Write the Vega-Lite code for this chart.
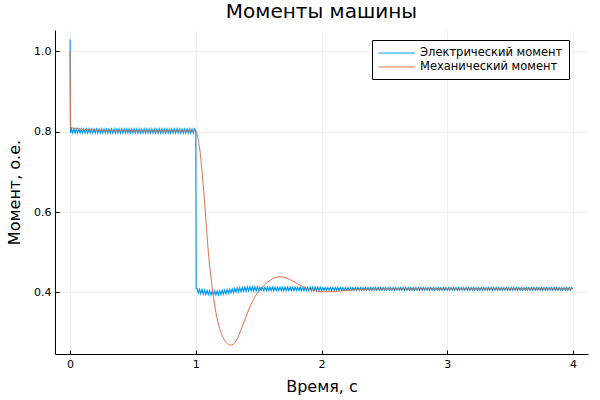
{
  "$schema": "https://vega.github.io/schema/vega-lite/v6.json",
  "width": 533,
  "height": 324,
  "autosize": "none",
  "padding": {"left": 55, "top": 30, "right": 12, "bottom": 46},
  "background": "white",
  "title": {"text": "Моменты машины", "font": "DejaVu Sans", "fontSize": 20, "fontWeight": "normal", "color": "#000", "offset": 8, "anchor": "middle"},
  "config": {
    "view": {"stroke": null},
    "font": "DejaVu Sans",
    "axis": {"domainColor": "#000", "domainWidth": 1, "tickColor": "#000", "tickSize": -4, "labelFont": "DejaVu Sans", "labelFontSize": 11, "labelColor": "#000", "titleFont": "DejaVu Sans", "titleFontSize": 16, "titleFontWeight": "normal", "titleColor": "#000", "gridColor": "#000", "gridOpacity": 0.08, "gridWidth": 0.7},
    "legend": {"labelFont": "DejaVu Sans", "labelFontSize": 11.5, "labelColor": "#000"}
  },
  "datasets": {
    "e": [
      {"t":0,"v":1.03},{"t":0.003,"v":0.797},
      {"t":0.01,"v":0.807},{"t":0.02,"v":0.797},{"t":0.03,"v":0.807},{"t":0.04,"v":0.797},{"t":0.05,"v":0.807},{"t":0.06,"v":0.797},{"t":0.07,"v":0.807},{"t":0.08,"v":0.797},{"t":0.09,"v":0.807},{"t":0.10,"v":0.797},
      {"t":0.11,"v":0.807},{"t":0.12,"v":0.797},{"t":0.13,"v":0.807},{"t":0.14,"v":0.797},{"t":0.15,"v":0.807},{"t":0.16,"v":0.797},{"t":0.17,"v":0.807},{"t":0.18,"v":0.797},{"t":0.19,"v":0.807},{"t":0.20,"v":0.797},
      {"t":0.21,"v":0.807},{"t":0.22,"v":0.797},{"t":0.23,"v":0.807},{"t":0.24,"v":0.797},{"t":0.25,"v":0.807},{"t":0.26,"v":0.797},{"t":0.27,"v":0.807},{"t":0.28,"v":0.797},{"t":0.29,"v":0.807},{"t":0.30,"v":0.797},
      {"t":0.31,"v":0.807},{"t":0.32,"v":0.797},{"t":0.33,"v":0.807},{"t":0.34,"v":0.797},{"t":0.35,"v":0.807},{"t":0.36,"v":0.797},{"t":0.37,"v":0.807},{"t":0.38,"v":0.797},{"t":0.39,"v":0.807},{"t":0.40,"v":0.797},
      {"t":0.41,"v":0.807},{"t":0.42,"v":0.797},{"t":0.43,"v":0.807},{"t":0.44,"v":0.797},{"t":0.45,"v":0.807},{"t":0.46,"v":0.797},{"t":0.47,"v":0.807},{"t":0.48,"v":0.797},{"t":0.49,"v":0.807},{"t":0.50,"v":0.797},
      {"t":0.51,"v":0.807},{"t":0.52,"v":0.797},{"t":0.53,"v":0.807},{"t":0.54,"v":0.797},{"t":0.55,"v":0.807},{"t":0.56,"v":0.797},{"t":0.57,"v":0.807},{"t":0.58,"v":0.797},{"t":0.59,"v":0.807},{"t":0.60,"v":0.797},
      {"t":0.61,"v":0.807},{"t":0.62,"v":0.797},{"t":0.63,"v":0.807},{"t":0.64,"v":0.797},{"t":0.65,"v":0.807},{"t":0.66,"v":0.797},{"t":0.67,"v":0.807},{"t":0.68,"v":0.797},{"t":0.69,"v":0.807},{"t":0.70,"v":0.797},
      {"t":0.71,"v":0.807},{"t":0.72,"v":0.797},{"t":0.73,"v":0.807},{"t":0.74,"v":0.797},{"t":0.75,"v":0.807},{"t":0.76,"v":0.797},{"t":0.77,"v":0.807},{"t":0.78,"v":0.797},{"t":0.79,"v":0.807},{"t":0.80,"v":0.797},
      {"t":0.81,"v":0.807},{"t":0.82,"v":0.797},{"t":0.83,"v":0.807},{"t":0.84,"v":0.797},{"t":0.85,"v":0.807},{"t":0.86,"v":0.797},{"t":0.87,"v":0.807},{"t":0.88,"v":0.797},{"t":0.89,"v":0.807},{"t":0.90,"v":0.797},
      {"t":0.91,"v":0.807},{"t":0.92,"v":0.797},{"t":0.93,"v":0.807},{"t":0.94,"v":0.797},{"t":0.95,"v":0.807},{"t":0.96,"v":0.797},{"t":0.97,"v":0.807},{"t":0.98,"v":0.797},{"t":0.99,"v":0.807},{"t":1.00,"v":0.802},
      {"t":1.003,"v":0.41},
      {"t":1.01,"v":0.410},{"t":1.02,"v":0.399},{"t":1.03,"v":0.408},{"t":1.04,"v":0.397},{"t":1.05,"v":0.407},{"t":1.06,"v":0.396},{"t":1.07,"v":0.406},{"t":1.08,"v":0.395},{"t":1.09,"v":0.405},{"t":1.10,"v":0.395},
      {"t":1.11,"v":0.404},{"t":1.12,"v":0.394},{"t":1.13,"v":0.404},{"t":1.14,"v":0.394},{"t":1.15,"v":0.404},{"t":1.16,"v":0.394},{"t":1.17,"v":0.404},{"t":1.18,"v":0.394},{"t":1.19,"v":0.404},{"t":1.20,"v":0.395},
      {"t":1.21,"v":0.405},{"t":1.22,"v":0.396},{"t":1.23,"v":0.406},{"t":1.24,"v":0.397},{"t":1.25,"v":0.407},{"t":1.26,"v":0.398},{"t":1.27,"v":0.408},{"t":1.28,"v":0.399},{"t":1.29,"v":0.409},{"t":1.30,"v":0.400},
      {"t":1.31,"v":0.410},{"t":1.32,"v":0.401},{"t":1.33,"v":0.411},{"t":1.34,"v":0.401},{"t":1.35,"v":0.412},{"t":1.36,"v":0.402},{"t":1.37,"v":0.412},{"t":1.38,"v":0.403},{"t":1.39,"v":0.413},{"t":1.40,"v":0.403},
      {"t":1.41,"v":0.414},{"t":1.42,"v":0.404},{"t":1.43,"v":0.414},{"t":1.44,"v":0.404},{"t":1.45,"v":0.414},{"t":1.46,"v":0.404},{"t":1.47,"v":0.414},{"t":1.48,"v":0.404},{"t":1.49,"v":0.414},{"t":1.50,"v":0.404},
      {"t":1.51,"v":0.413},{"t":1.52,"v":0.405},{"t":1.53,"v":0.413},{"t":1.54,"v":0.405},{"t":1.55,"v":0.413},{"t":1.56,"v":0.405},{"t":1.57,"v":0.413},{"t":1.58,"v":0.405},{"t":1.59,"v":0.413},{"t":1.60,"v":0.405},
      {"t":1.61,"v":0.413},{"t":1.62,"v":0.405},{"t":1.63,"v":0.413},{"t":1.64,"v":0.405},{"t":1.65,"v":0.413},{"t":1.66,"v":0.405},{"t":1.67,"v":0.413},{"t":1.68,"v":0.405},{"t":1.69,"v":0.413},{"t":1.70,"v":0.405},
      {"t":1.71,"v":0.413},{"t":1.72,"v":0.405},{"t":1.73,"v":0.413},{"t":1.74,"v":0.405},{"t":1.75,"v":0.413},{"t":1.76,"v":0.405},{"t":1.77,"v":0.413},{"t":1.78,"v":0.405},{"t":1.79,"v":0.413},{"t":1.80,"v":0.405},
      {"t":1.81,"v":0.413},{"t":1.82,"v":0.405},{"t":1.83,"v":0.413},{"t":1.84,"v":0.405},{"t":1.85,"v":0.413},{"t":1.86,"v":0.405},{"t":1.87,"v":0.413},{"t":1.88,"v":0.405},{"t":1.89,"v":0.413},{"t":1.90,"v":0.405},
      {"t":1.91,"v":0.413},{"t":1.92,"v":0.405},{"t":1.93,"v":0.413},{"t":1.94,"v":0.405},{"t":1.95,"v":0.413},{"t":1.96,"v":0.405},{"t":1.97,"v":0.413},{"t":1.98,"v":0.405},{"t":1.99,"v":0.413},{"t":2.00,"v":0.405},
      {"t":2.01,"v":0.412},{"t":2.02,"v":0.406},{"t":2.03,"v":0.412},{"t":2.04,"v":0.406},{"t":2.05,"v":0.412},{"t":2.06,"v":0.406},{"t":2.07,"v":0.412},{"t":2.08,"v":0.406},{"t":2.09,"v":0.412},{"t":2.10,"v":0.406},
      {"t":2.11,"v":0.412},{"t":2.12,"v":0.406},{"t":2.13,"v":0.412},{"t":2.14,"v":0.406},{"t":2.15,"v":0.412},{"t":2.16,"v":0.406},{"t":2.17,"v":0.412},{"t":2.18,"v":0.406},{"t":2.19,"v":0.412},{"t":2.20,"v":0.406},
      {"t":2.21,"v":0.412},{"t":2.22,"v":0.406},{"t":2.23,"v":0.412},{"t":2.24,"v":0.406},{"t":2.25,"v":0.412},{"t":2.26,"v":0.406},{"t":2.27,"v":0.412},{"t":2.28,"v":0.406},{"t":2.29,"v":0.412},{"t":2.30,"v":0.406},
      {"t":2.31,"v":0.412},{"t":2.32,"v":0.406},{"t":2.33,"v":0.412},{"t":2.34,"v":0.406},{"t":2.35,"v":0.412},{"t":2.36,"v":0.406},{"t":2.37,"v":0.412},{"t":2.38,"v":0.406},{"t":2.39,"v":0.412},{"t":2.40,"v":0.406},
      {"t":2.41,"v":0.412},{"t":2.42,"v":0.406},{"t":2.43,"v":0.412},{"t":2.44,"v":0.406},{"t":2.45,"v":0.412},{"t":2.46,"v":0.406},{"t":2.47,"v":0.412},{"t":2.48,"v":0.406},{"t":2.49,"v":0.412},{"t":2.50,"v":0.406},
      {"t":2.51,"v":0.412},{"t":2.52,"v":0.406},{"t":2.53,"v":0.412},{"t":2.54,"v":0.406},{"t":2.55,"v":0.412},{"t":2.56,"v":0.406},{"t":2.57,"v":0.412},{"t":2.58,"v":0.406},{"t":2.59,"v":0.412},{"t":2.60,"v":0.406},
      {"t":2.61,"v":0.412},{"t":2.62,"v":0.406},{"t":2.63,"v":0.412},{"t":2.64,"v":0.406},{"t":2.65,"v":0.412},{"t":2.66,"v":0.406},{"t":2.67,"v":0.412},{"t":2.68,"v":0.406},{"t":2.69,"v":0.412},{"t":2.70,"v":0.406},
      {"t":2.71,"v":0.412},{"t":2.72,"v":0.406},{"t":2.73,"v":0.412},{"t":2.74,"v":0.406},{"t":2.75,"v":0.412},{"t":2.76,"v":0.406},{"t":2.77,"v":0.412},{"t":2.78,"v":0.406},{"t":2.79,"v":0.412},{"t":2.80,"v":0.406},
      {"t":2.81,"v":0.412},{"t":2.82,"v":0.406},{"t":2.83,"v":0.412},{"t":2.84,"v":0.406},{"t":2.85,"v":0.412},{"t":2.86,"v":0.406},{"t":2.87,"v":0.412},{"t":2.88,"v":0.406},{"t":2.89,"v":0.412},{"t":2.90,"v":0.406},
      {"t":2.91,"v":0.412},{"t":2.92,"v":0.406},{"t":2.93,"v":0.412},{"t":2.94,"v":0.406},{"t":2.95,"v":0.412},{"t":2.96,"v":0.406},{"t":2.97,"v":0.412},{"t":2.98,"v":0.406},{"t":2.99,"v":0.412},{"t":3.00,"v":0.406},
      {"t":3.01,"v":0.412},{"t":3.02,"v":0.406},{"t":3.03,"v":0.412},{"t":3.04,"v":0.406},{"t":3.05,"v":0.412},{"t":3.06,"v":0.406},{"t":3.07,"v":0.412},{"t":3.08,"v":0.406},{"t":3.09,"v":0.412},{"t":3.10,"v":0.406},
      {"t":3.11,"v":0.412},{"t":3.12,"v":0.406},{"t":3.13,"v":0.412},{"t":3.14,"v":0.406},{"t":3.15,"v":0.412},{"t":3.16,"v":0.406},{"t":3.17,"v":0.412},{"t":3.18,"v":0.406},{"t":3.19,"v":0.412},{"t":3.20,"v":0.406},
      {"t":3.21,"v":0.412},{"t":3.22,"v":0.406},{"t":3.23,"v":0.412},{"t":3.24,"v":0.406},{"t":3.25,"v":0.412},{"t":3.26,"v":0.406},{"t":3.27,"v":0.412},{"t":3.28,"v":0.406},{"t":3.29,"v":0.412},{"t":3.30,"v":0.406},
      {"t":3.31,"v":0.412},{"t":3.32,"v":0.406},{"t":3.33,"v":0.412},{"t":3.34,"v":0.406},{"t":3.35,"v":0.412},{"t":3.36,"v":0.406},{"t":3.37,"v":0.412},{"t":3.38,"v":0.406},{"t":3.39,"v":0.412},{"t":3.40,"v":0.406},
      {"t":3.41,"v":0.412},{"t":3.42,"v":0.406},{"t":3.43,"v":0.412},{"t":3.44,"v":0.406},{"t":3.45,"v":0.412},{"t":3.46,"v":0.406},{"t":3.47,"v":0.412},{"t":3.48,"v":0.406},{"t":3.49,"v":0.412},{"t":3.50,"v":0.406},
      {"t":3.51,"v":0.412},{"t":3.52,"v":0.406},{"t":3.53,"v":0.412},{"t":3.54,"v":0.406},{"t":3.55,"v":0.412},{"t":3.56,"v":0.406},{"t":3.57,"v":0.412},{"t":3.58,"v":0.406},{"t":3.59,"v":0.412},{"t":3.60,"v":0.406},
      {"t":3.61,"v":0.412},{"t":3.62,"v":0.406},{"t":3.63,"v":0.412},{"t":3.64,"v":0.406},{"t":3.65,"v":0.412},{"t":3.66,"v":0.406},{"t":3.67,"v":0.412},{"t":3.68,"v":0.406},{"t":3.69,"v":0.412},{"t":3.70,"v":0.406},
      {"t":3.71,"v":0.412},{"t":3.72,"v":0.406},{"t":3.73,"v":0.412},{"t":3.74,"v":0.406},{"t":3.75,"v":0.412},{"t":3.76,"v":0.406},{"t":3.77,"v":0.412},{"t":3.78,"v":0.406},{"t":3.79,"v":0.412},{"t":3.80,"v":0.406},
      {"t":3.81,"v":0.412},{"t":3.82,"v":0.406},{"t":3.83,"v":0.412},{"t":3.84,"v":0.406},{"t":3.85,"v":0.412},{"t":3.86,"v":0.406},{"t":3.87,"v":0.412},{"t":3.88,"v":0.406},{"t":3.89,"v":0.412},{"t":3.90,"v":0.406},
      {"t":3.91,"v":0.412},{"t":3.92,"v":0.406},{"t":3.93,"v":0.412},{"t":3.94,"v":0.406},{"t":3.95,"v":0.412},{"t":3.96,"v":0.406},{"t":3.97,"v":0.412},{"t":3.98,"v":0.406},{"t":3.99,"v":0.412},{"t":4.00,"v":0.409}
    ],
    "m": [
      {"t":0,"v":1.0},{"t":0.005,"v":0.81},{"t":0.05,"v":0.808},{"t":0.1,"v":0.806},{"t":0.2,"v":0.804},{"t":0.3,"v":0.803},{"t":0.4,"v":0.802},{"t":1.0,"v":0.802},
      {"t":1.01,"v":0.795},{"t":1.02,"v":0.778},{"t":1.03,"v":0.76},{"t":1.05,"v":0.70},{"t":1.076,"v":0.60},{"t":1.10,"v":0.50},{"t":1.12,"v":0.44},{"t":1.14,"v":0.39},{"t":1.16,"v":0.35},{"t":1.19,"v":0.31},{"t":1.22,"v":0.286},{"t":1.25,"v":0.273},{"t":1.275,"v":0.269},{"t":1.30,"v":0.272},{"t":1.33,"v":0.285},{"t":1.37,"v":0.316},{"t":1.40,"v":0.34},{"t":1.434,"v":0.367},{"t":1.47,"v":0.389},{"t":1.51,"v":0.406},{"t":1.55,"v":0.42},{"t":1.59,"v":0.43},{"t":1.63,"v":0.437},{"t":1.67,"v":0.439},{"t":1.72,"v":0.436},{"t":1.78,"v":0.427},{"t":1.83,"v":0.418},{"t":1.88,"v":0.41},{"t":1.94,"v":0.405},{"t":2.00,"v":0.402},{"t":2.06,"v":0.402},{"t":2.12,"v":0.403},{"t":2.2,"v":0.405},{"t":2.3,"v":0.407},{"t":2.4,"v":0.408},{"t":2.6,"v":0.409},{"t":4.0,"v":0.409}
    ]
  },
  "encoding": {
    "x": {"field": "t", "type": "quantitative", "scale": {"domain": [-0.12, 4.12], "nice": false, "zero": false}, "axis": {"title": "Время, с", "values": [0, 1, 2, 3, 4], "format": "d", "labelPadding": 8, "titlePadding": 9}},
    "y": {"field": "v", "type": "quantitative", "scale": {"domain": [0.247, 1.053], "nice": false, "zero": false}, "axis": {"title": "Момент, о.е.", "values": [0.4, 0.6, 0.8, 1.0], "format": ".1f", "labelPadding": 8, "titlePadding": 11}}
  },
  "layer": [
    {
      "data": {"name": "e"},
      "mark": {"type": "line", "strokeWidth": 1.2, "clip": true},
      "encoding": {
        "color": {"datum": "Электрический момент", "type": "nominal",
          "scale": {"domain": ["Электрический момент", "Механический момент"], "range": ["#009AFA", "#E36F47"]},
          "legend": {"title": null, "orient": "none", "legendX": 317, "legendY": 10, "padding": 6, "strokeColor": "#000", "fillColor": "#fff", "symbolType": "M-1,0H4.6", "symbolSize": 169, "symbolStrokeWidth": 1, "symbolFillColor": "transparent", "rowPadding": 1, "labelOffset": 28}}
      }
    },
    {
      "data": {"name": "m"},
      "mark": {"type": "line", "strokeWidth": 1, "interpolate": "monotone", "clip": true},
      "encoding": {
        "color": {"datum": "Механический момент", "type": "nominal"}
      }
    }
  ]
}
